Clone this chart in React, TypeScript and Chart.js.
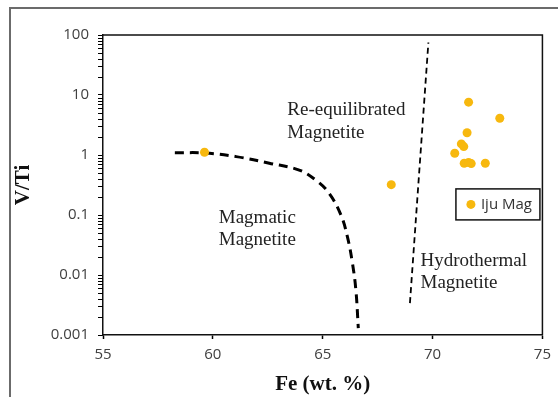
import React, { useEffect, useRef } from 'react';
import { Chart, registerables } from 'chart.js';

Chart.register(...registerables);

// Iju magnetite samples
const ijuFe = [71.64, 73.06, 71.57, 71.31, 71.42, 71.01, 71.44, 71.64, 71.76, 72.4, 68.12, 59.62];
const ijuVTi = [7.6, 4.1, 2.35, 1.53, 1.38, 1.07, 0.73, 0.75, 0.72, 0.73, 0.32, 1.11];

// Magmatic / re-equilibrated boundary (thick dashed curve)
const magFe = [58.27, 59.63, 61.06, 62.57, 63.93, 64.69, 65.29, 65.83, 66.12, 66.35, 66.51, 66.62];
const magVTi = [1.09, 1.08, 0.94, 0.73, 0.56, 0.38, 0.23, 0.1, 0.044, 0.016, 0.0056, 0.0013];

// Hydrothermal boundary (thin dashed line)
const hydFe = [68.97, 69.81];
const hydVTi = [0.0034, 75];

const xTicks = [55, 60, 65, 70, 75];
const yTickValues = [0.001, 0.01, 0.1, 1, 10, 100];
const yTickLabels = ['0.001', '0.01', '0.1', '1', '10', '100'];
const yMinorFactors = [2, 3, 4, 5, 6, 7, 8, 9];

const regionLabels = [
  { lines: ['Re-equilibrated', 'Magnetite'], fe: 63.39, vti: 4.64 },
  { lines: ['Magmatic', 'Magnetite'], fe: 60.27, vti: 0.0744 },
  { lines: ['Hydrothermal', 'Magnetite'], fe: 69.45, vti: 0.0143 },
];

const seriesName = 'Iju Mag';
const dotColor = '#F7B80E';
const tickFont = { family: '"Open Sans", sans-serif', size: 15 };
const serif = '"Liberation Serif", "Times New Roman", serif';

const framePlugin = {
  id: 'frame',
  beforeDraw(chart: any) {
    const ctx = chart.ctx;
    ctx.save();
    ctx.strokeStyle = '#6b6b6b';
    ctx.lineWidth = 2;
    ctx.beginPath();
    ctx.moveTo(10, chart.height);
    ctx.lineTo(10, 8);
    ctx.lineTo(chart.width, 8);
    ctx.stroke();
    ctx.restore();
  },
  afterDraw(chart: any) {
    const { ctx, chartArea, scales } = chart;
    ctx.save();
    ctx.strokeStyle = '#111';
    ctx.lineWidth = 1.5;
    ctx.beginPath();
    ctx.moveTo(chartArea.left, chartArea.top);
    ctx.lineTo(chartArea.right, chartArea.top);
    ctx.lineTo(chartArea.right, chartArea.bottom);
    ctx.stroke();
    // minor tick marks of the logarithmic y axis
    ctx.strokeStyle = '#000';
    ctx.lineWidth = 1;
    ctx.beginPath();
    yTickValues.forEach((v, i) => {
      if (i === yTickValues.length - 1) return;
      yMinorFactors.forEach((k) => {
        const py = Math.round(scales.y.getPixelForValue(v * k)) + 0.5;
        ctx.moveTo(chartArea.left - 5, py);
        ctx.lineTo(chartArea.left, py);
      });
    });
    ctx.stroke();
    ctx.restore();
  },
};

const regionTextPlugin = {
  id: 'regionText',
  afterDatasetsDraw(chart: any) {
    const { ctx, scales } = chart;
    ctx.save();
    ctx.font = `19px ${serif}`;
    ctx.fillStyle = '#222';
    ctx.textAlign = 'left';
    ctx.textBaseline = 'alphabetic';
    regionLabels.forEach((r) => {
      const x = scales.x.getPixelForValue(r.fe);
      const y = scales.y.getPixelForValue(r.vti);
      r.lines.forEach((line, i) => ctx.fillText(line, x, y + i * 22.5));
    });
    ctx.restore();
  },
};

const boxLegendPlugin = {
  id: 'boxLegend',
  afterDraw(chart: any) {
    const { ctx, chartArea } = chart;
    const w = 84;
    const h = 31;
    const right = chartArea.right - 2.5;
    const left = right - w;
    const top = chartArea.top + (chartArea.bottom - chartArea.top) * 0.513;
    ctx.save();
    ctx.fillStyle = '#fff';
    ctx.fillRect(left, top, w, h);
    ctx.strokeStyle = '#111';
    ctx.lineWidth = 1.5;
    ctx.strokeRect(left, top, w, h);
    const ds = chart.data.datasets[0];
    ctx.fillStyle = ds.backgroundColor;
    ctx.beginPath();
    ctx.arc(left + 15, top + h / 2, 4.5, 0, Math.PI * 2);
    ctx.fill();
    ctx.fillStyle = '#333';
    ctx.font = `15px ${tickFont.family}`;
    ctx.textBaseline = 'middle';
    ctx.fillText(ds.label, left + 25, top + h / 2 + 0.5);
    ctx.restore();
  },
};

export default function App() {
  const ref = useRef<HTMLCanvasElement>(null);

  useEffect(() => {
    if (!ref.current) return;
    const chart = new Chart(ref.current, {
      type: 'scatter',
      data: {
        datasets: [
          {
            label: seriesName,
            data: ijuFe.map((x, i) => ({ x, y: ijuVTi[i] })),
            backgroundColor: dotColor,
            borderColor: dotColor,
            pointRadius: 4.5,
            borderWidth: 0,
            order: 0,
          },
          {
            label: 'magmatic',
            data: magFe.map((x, i) => ({ x, y: magVTi[i] })),
            showLine: true,
            borderColor: '#000',
            borderWidth: 3,
            borderDash: [9, 6],
            pointRadius: 0,
            tension: 0.4,
            order: 1,
          } as any,
          {
            label: 'hydrothermal',
            data: hydFe.map((x, i) => ({ x, y: hydVTi[i] })),
            showLine: true,
            borderColor: '#000',
            borderWidth: 1.8,
            borderDash: [6, 4],
            pointRadius: 0,
            order: 1,
          },
        ],
      },
      options: {
        responsive: false,
        animation: false,
        events: [],
        layout: { padding: { left: 0, top: 35, right: 14, bottom: 0 } },
        plugins: {
          legend: { display: false },
          tooltip: { enabled: false },
        },
        scales: {
          x: {
            type: 'linear',
            min: xTicks[0],
            max: xTicks[xTicks.length - 1],
            afterBuildTicks: (s: any) => {
              s.ticks = xTicks.map((v) => ({ value: v }));
            },
            afterFit: (s: any) => {
              s.height = 62;
            },
            grid: { display: true, drawOnChartArea: false, drawTicks: true, tickLength: 4, color: '#000', tickWidth: 1.5 },
            border: { display: true, color: '#111', width: 1.5 },
            ticks: { font: tickFont, color: '#404040', padding: 7, maxRotation: 0, autoSkip: false },
            title: {
              display: true,
              text: 'Fe (wt. %)',
              color: '#111',
              font: { family: serif, size: 21, weight: 'bold' },
              padding: { top: 0, bottom: 0 },
            },
          },
          y: {
            type: 'logarithmic',
            min: yTickValues[0],
            max: yTickValues[yTickValues.length - 1],
            afterBuildTicks: (s: any) => {
              s.ticks = yTickValues.map((v) => ({ value: v, major: true }));
            },
            afterFit: (s: any) => {
              s.width = 103;
            },
            grid: { display: true, drawOnChartArea: false, drawTicks: true, tickLength: 5, color: '#000', tickWidth: 1 },
            border: { display: true, color: '#111', width: 1.5 },
            ticks: {
              font: tickFont,
              color: '#404040',
              padding: 9,
              autoSkip: false,
              callback: (value: any) => {
                const idx = yTickValues.findIndex((v) => Math.abs(v - Number(value)) < v * 1e-6);
                return idx >= 0 ? yTickLabels[idx] : '';
              },
            },
            title: {
              display: true,
              text: 'V/Ti',
              color: '#111',
              font: { family: serif, size: 21, weight: 'bold' },
              padding: { top: 11, bottom: 0 },
            },
          },
        },
      },
      plugins: [framePlugin, regionTextPlugin, boxLegendPlugin],
    } as any);
    return () => chart.destroy();
  }, []);

  return (
    <div style={{ position: 'absolute', left: 0, top: 0, width: 558, height: 397, background: '#fff' }}>
      <canvas ref={ref} width={558} height={397} style={{ display: 'block' }} />
    </div>
  );
}
